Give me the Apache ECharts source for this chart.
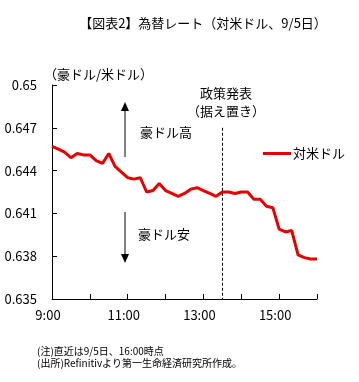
<!DOCTYPE html>
<html>
<head>
<meta charset="utf-8">
<script src="https://cdn.jsdelivr.net/npm/echarts@6/dist/echarts.min.js"></script>
<style>
  html, body { margin: 0; padding: 0; background: #fff; }
  #chart { width: 359px; height: 382px; }
</style>
</head>
<body>
<div id="chart"></div>
<script>
  // 時刻（10分刻み）
  var times = [
    '9:00', '9:10', '9:20', '9:30', '9:40', '9:50',
    '10:00', '10:10', '10:20', '10:30', '10:40', '10:50',
    '11:00', '11:10', '11:20', '11:30', '11:40', '11:50',
    '12:00', '12:10', '12:20', '12:30', '12:40', '12:50',
    '13:00', '13:10', '13:20', '13:30', '13:40', '13:50',
    '14:00', '14:10', '14:20', '14:30', '14:40', '14:50',
    '15:00', '15:10', '15:20', '15:30', '15:40', '15:50',
    '16:00'
  ]
  // 対米ドル（豪ドル/米ドル）
  var audusd = [
    0.6457, 0.6455, 0.6453, 0.6449, 0.6452, 0.6451,
    0.6451, 0.6447, 0.6445, 0.6452, 0.6443, 0.6439,
    0.6435, 0.6434, 0.6435, 0.6425, 0.6426, 0.6431,
    0.6426, 0.6424, 0.6422, 0.6424, 0.6427, 0.6428,
    0.6426, 0.6424, 0.6422, 0.6425, 0.6425, 0.6424,
    0.6425, 0.6425, 0.6420, 0.6420, 0.6415, 0.6414,
    0.6399, 0.6397, 0.6398, 0.6381, 0.6379, 0.6378,
    0.6378
  ]
  var policyTime = '13:30'

  var font = '"Noto Sans CJK JP", sans-serif'

  var chart = echarts.init(document.getElementById('chart'))

  var option = {
    animation: false,
    title: {
      text: '【図表2】為替レート（対米ドル、9/5日）',
      left: 198,
      textAlign: 'center',
      top: 12,
      textStyle: { fontFamily: font, fontSize: 13, fontWeight: 'normal', color: '#000' }
    },
    legend: {
      left: 258,
      top: 142,
      icon: 'rect',
      itemWidth: 28,
      itemHeight: 3,
      itemGap: 2,
      textStyle: { fontFamily: font, fontSize: 13, color: '#000', padding: [0, 0, 0, -3] },
      data: ['対米ドル']
    },
    grid: { left: 52, right: 42, top: 85, bottom: 83 },
    xAxis: {
      type: 'category',
      data: times,
      boundaryGap: false,
      axisLine: { lineStyle: { color: '#000', width: 1 } },
      axisTick: { inside: true, length: 5, interval: 5, lineStyle: { color: '#000' } },
      axisLabel: {
        interval: 11,
        margin: 10,
        padding: [0, 8, 0, 0],
        fontFamily: font, fontSize: 13, color: '#000'
      },
      splitLine: { show: false }
    },
    yAxis: {
      type: 'value',
      min: 0.635,
      max: 0.65,
      interval: 0.003,
      name: '（豪ドル/米ドル）',
      nameLocation: 'end',
      nameGap: 4,
      nameTextStyle: { fontFamily: font, fontSize: 13, color: '#000', align: 'left', padding: [0, 0, 0, -8] },
      axisLine: { show: true, lineStyle: { color: '#000', width: 1 } },
      axisTick: { show: true, inside: true, length: 5, lineStyle: { color: '#000' } },
      axisLabel: {
        margin: 15,
        fontFamily: font, fontSize: 13, color: '#000',
        formatter: function (v) { return String(parseFloat(v.toFixed(3))) }
      },
      splitLine: { show: false }
    },
    series: [
      {
        name: '対米ドル',
        type: 'line',
        data: audusd,
        symbol: 'none',
        color: '#e60000',
        lineStyle: { width: 3, color: '#e60000' },
        markLine: {
          silent: true,
          symbol: ['none', 'none'],
          label: { show: false },
          lineStyle: { type: [3, 2], color: '#000', width: 1 },
          data: [
            [{ coord: [policyTime, 0.647] }, { coord: [policyTime, 0.635] }]
          ]
        }
      }
    ],
    graphic: [
      // 豪ドル高（上向き矢印）
      { type: 'line', shape: { x1: 125, y1: 157, x2: 125, y2: 110 }, style: { stroke: '#000', lineWidth: 1 } },
      { type: 'polygon', shape: { points: [[125, 102], [121, 111], [129, 111]] }, style: { fill: '#000' } },
      { type: 'text', left: 140, top: 126, style: { text: '豪ドル高', font: '13px ' + font, fill: '#000' } },
      // 豪ドル安（下向き矢印）
      { type: 'line', shape: { x1: 125, y1: 212, x2: 125, y2: 255 }, style: { stroke: '#000', lineWidth: 1 } },
      { type: 'polygon', shape: { points: [[125, 263], [121, 254], [129, 254]] }, style: { fill: '#000' } },
      { type: 'text', left: 138, top: 228, style: { text: '豪ドル安', font: '13px ' + font, fill: '#000' } },
      // 政策発表
      { type: 'text', x: 226, y: 87, style: { text: '政策発表', font: '13px ' + font, fill: '#000', align: 'center' } },
      { type: 'text', x: 226, y: 105, style: { text: '（据え置き）', font: '13px ' + font, fill: '#000', align: 'center' } },
      // 注記
      { type: 'text', left: 37, top: 346, style: { text: '(注)直近は9/5日、16:00時点', font: '10px ' + font, fill: '#000' } },
      { type: 'text', left: 37, top: 358, style: { text: '(出所)Refinitivより第一生命経済研究所作成。', font: '10px ' + font, fill: '#000' } }
    ]
  }

  chart.setOption(option)
</script>
</body>
</html>
